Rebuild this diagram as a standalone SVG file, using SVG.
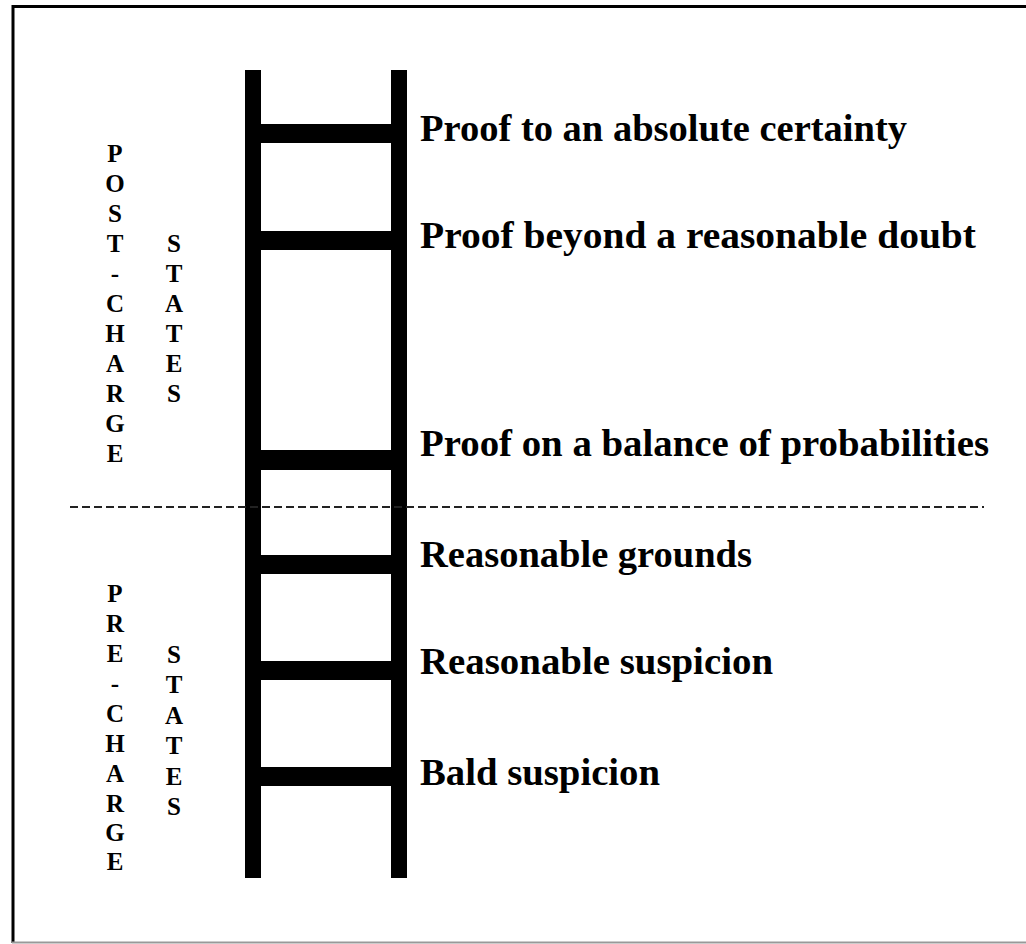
<svg xmlns="http://www.w3.org/2000/svg" width="1026" height="944" viewBox="0 0 1026 944">
<style>
.lbl{font-family:"Liberation Serif","Times New Roman",serif;font-weight:bold;font-size:37px;fill:#000}
.v{font-family:"Liberation Serif","Times New Roman",serif;font-weight:bold;font-size:25px;fill:#000;text-anchor:middle}
.rail{fill:#000}
</style>
<rect width="1026" height="944" fill="#fff"/>
<g id="frame">
<line x1="13" y1="6.5" x2="1026" y2="6.5" stroke="#000" stroke-width="3"/>
<line x1="13" y1="5" x2="13" y2="943" stroke="#000" stroke-width="3"/>
<line x1="12" y1="942.5" x2="1026" y2="942.5" stroke="#999" stroke-width="2"/>
</g>
<g id="ladder">
<rect class="rail" x="245" y="70" width="16" height="808"/>
<rect class="rail" x="391" y="70" width="16" height="808"/>
<rect class="rail" x="261" y="124" width="130" height="19"/>
<rect class="rail" x="261" y="231" width="130" height="19"/>
<rect class="rail" x="261" y="450" width="130" height="20"/>
<rect class="rail" x="261" y="555" width="130" height="19"/>
<rect class="rail" x="261" y="661" width="130" height="19"/>
<rect class="rail" x="261" y="767" width="130" height="19"/>
</g>
<g id="connectors">
<line x1="70" y1="507" x2="984" y2="507" stroke="#222" stroke-width="2.2" stroke-dasharray="8,4"/>
</g>
<g id="label-certainty"><text class="lbl" x="420" y="141" textLength="487" lengthAdjust="spacingAndGlyphs">Proof to an absolute certainty</text></g>
<g id="label-doubt"><text class="lbl" x="420" y="248" textLength="556" lengthAdjust="spacingAndGlyphs">Proof beyond a reasonable doubt</text></g>
<g id="label-balance"><text class="lbl" x="420" y="456" textLength="569" lengthAdjust="spacingAndGlyphs">Proof on a balance of probabilities</text></g>
<g id="label-grounds"><text class="lbl" x="420" y="567" textLength="332" lengthAdjust="spacingAndGlyphs">Reasonable grounds</text></g>
<g id="label-reasonable-suspicion"><text class="lbl" x="420" y="674" textLength="353" lengthAdjust="spacingAndGlyphs">Reasonable suspicion</text></g>
<g id="label-bald"><text class="lbl" x="420" y="785" textLength="240" lengthAdjust="spacingAndGlyphs">Bald suspicion</text></g>
<g id="post-charge">
<text class="v" x="115" y="162">P</text>
<text class="v" x="115" y="192">O</text>
<text class="v" x="115" y="222">S</text>
<text class="v" x="115" y="252">T</text>
<text class="v" x="115" y="282">-</text>
<text class="v" x="115" y="312">C</text>
<text class="v" x="115" y="342">H</text>
<text class="v" x="115" y="372">A</text>
<text class="v" x="115" y="402">R</text>
<text class="v" x="115" y="432">G</text>
<text class="v" x="115" y="462">E</text>
</g>
<g id="post-states">
<text class="v" x="174" y="252">S</text>
<text class="v" x="174" y="282">T</text>
<text class="v" x="174" y="312">A</text>
<text class="v" x="174" y="342">T</text>
<text class="v" x="174" y="372">E</text>
<text class="v" x="174" y="402">S</text>
</g>
<g id="pre-charge">
<text class="v" x="115" y="602">P</text>
<text class="v" x="115" y="632">R</text>
<text class="v" x="115" y="662">E</text>
<text class="v" x="115" y="692">-</text>
<text class="v" x="115" y="722">C</text>
<text class="v" x="115" y="752">H</text>
<text class="v" x="115" y="782">A</text>
<text class="v" x="115" y="812">R</text>
<text class="v" x="115" y="841">G</text>
<text class="v" x="115" y="870">E</text>
</g>
<g id="pre-states">
<text class="v" x="174" y="663">S</text>
<text class="v" x="174" y="693">T</text>
<text class="v" x="174" y="724">A</text>
<text class="v" x="174" y="754">T</text>
<text class="v" x="174" y="785">E</text>
<text class="v" x="174" y="815">S</text>
</g>
</svg>
